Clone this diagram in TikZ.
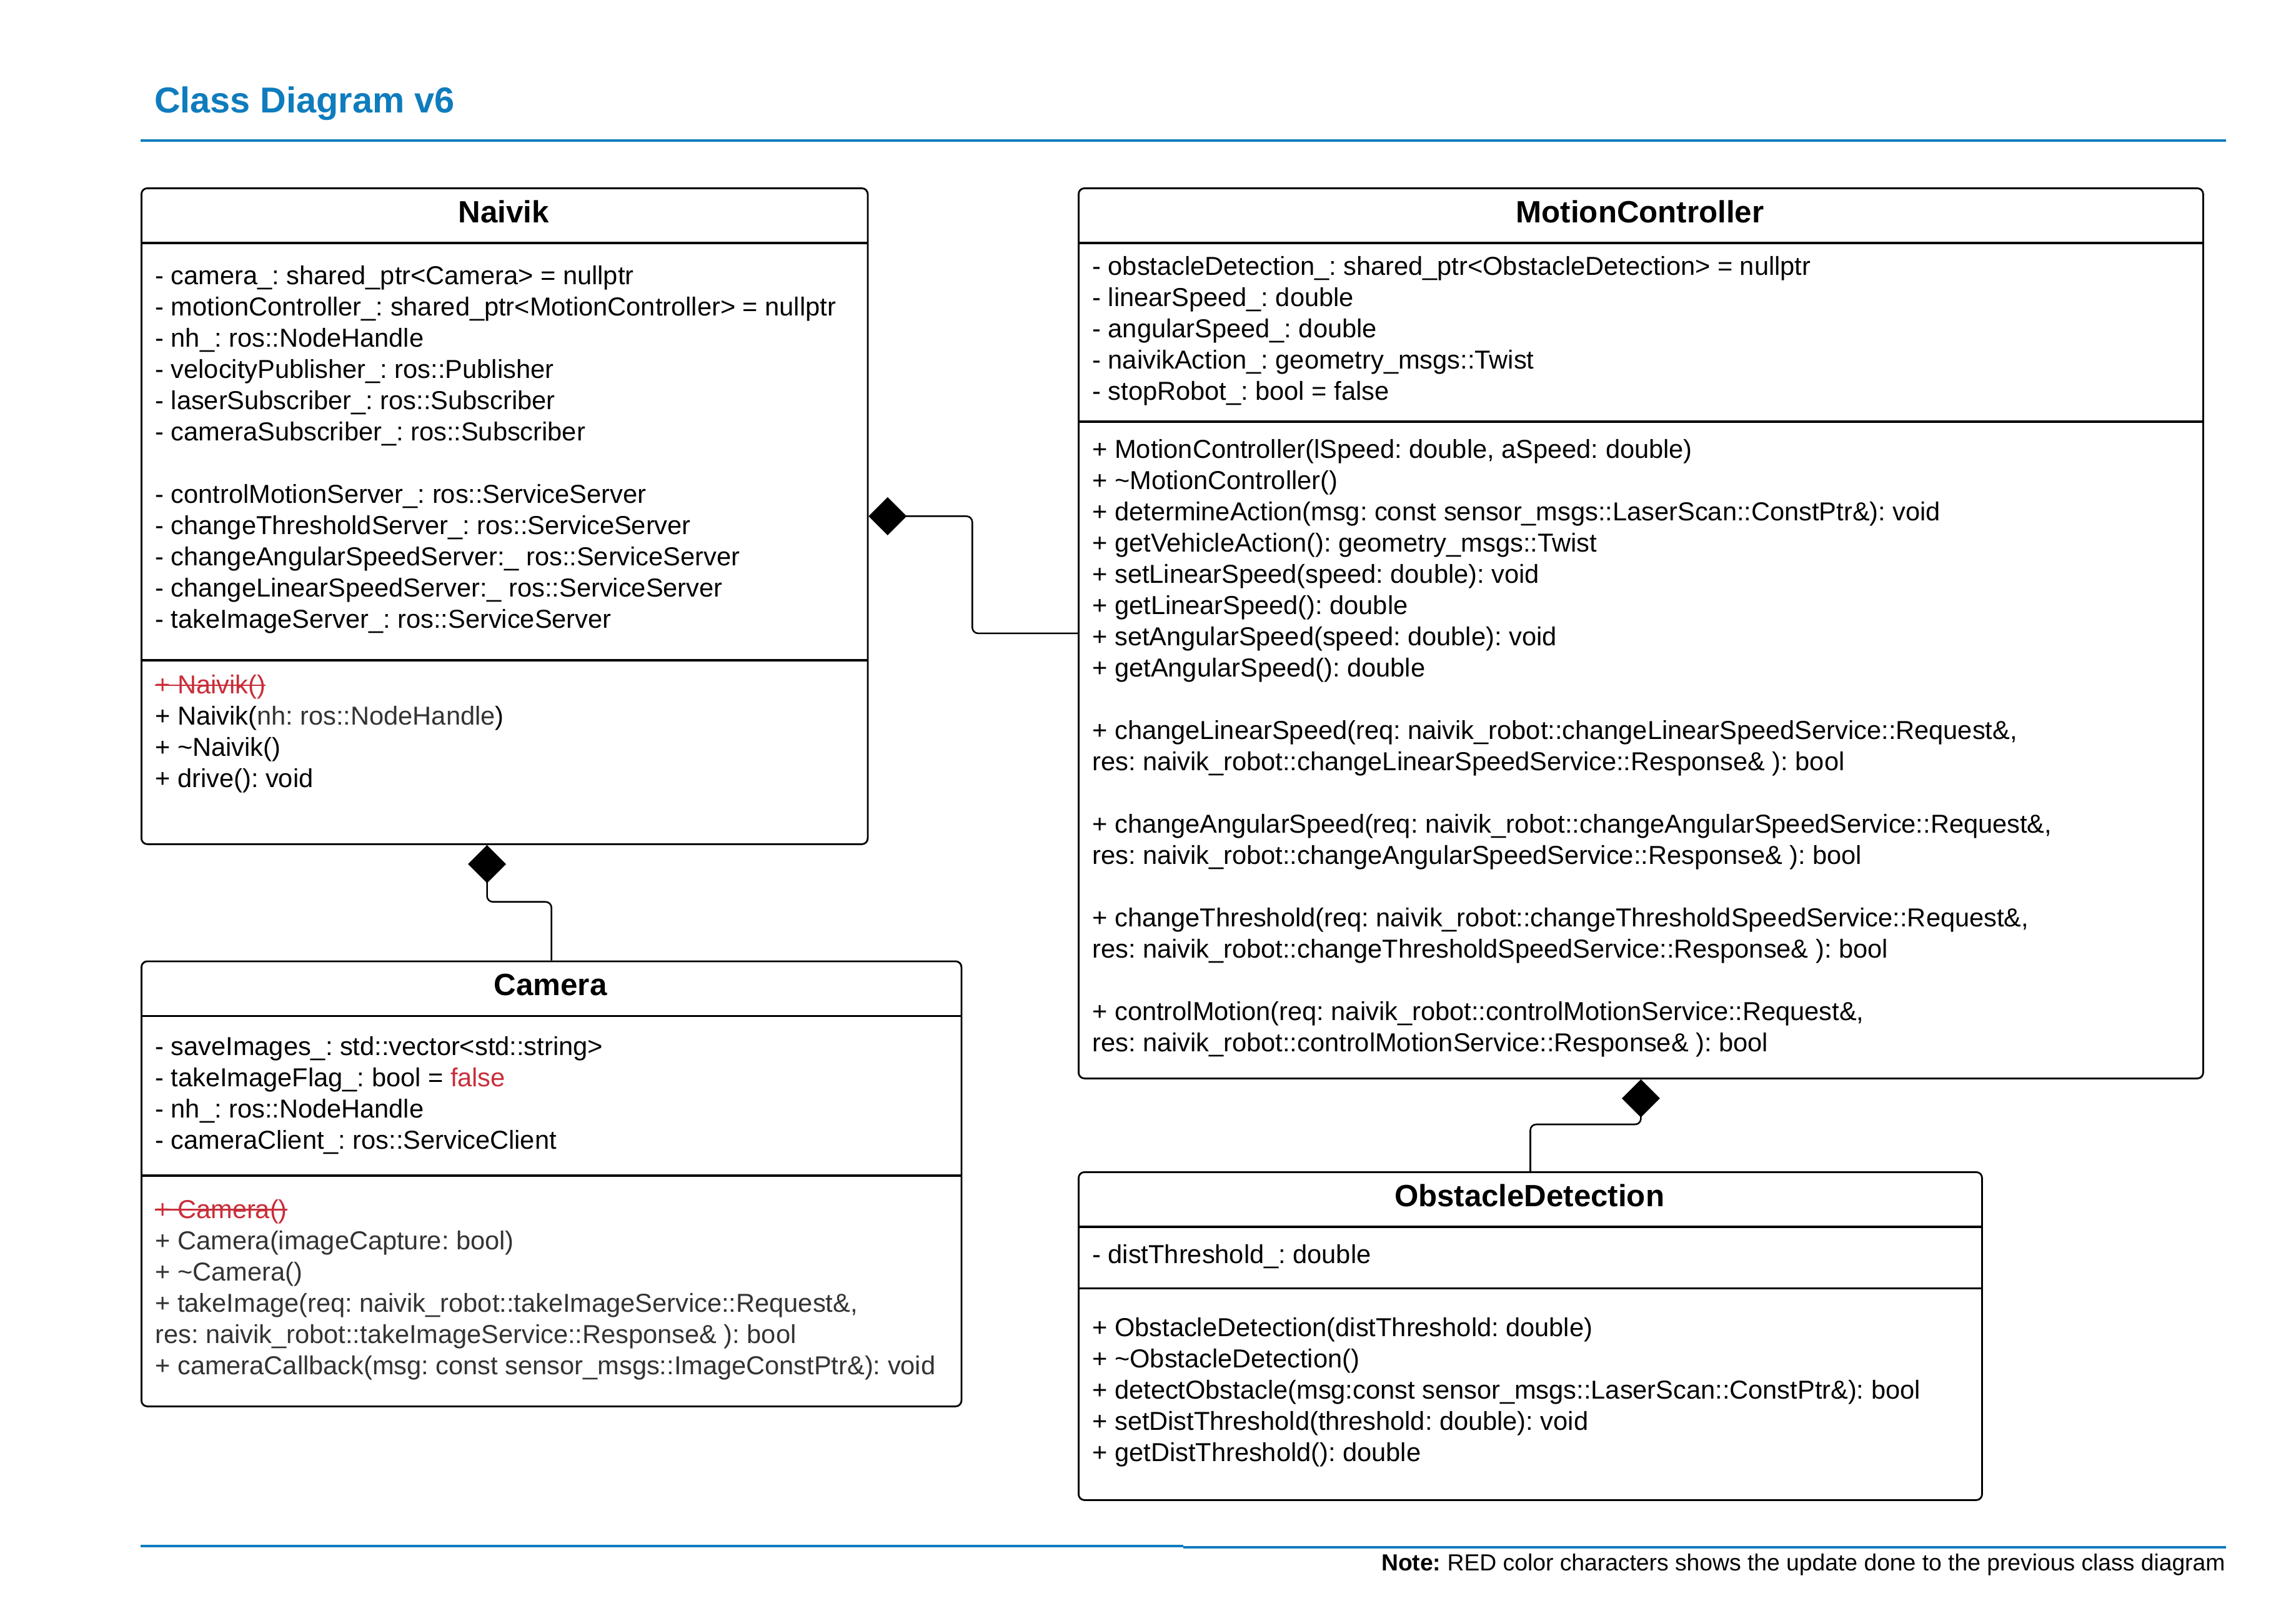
\documentclass[tikz,border=0pt]{standalone}
\usepackage{fontspec}
\setmainfont{Liberation Sans}
\usetikzlibrary{arrows.meta}
\definecolor{tblue}{RGB}{14,124,189}
\definecolor{ured}{RGB}{201,45,57}
\definecolor{dgray}{RGB}{51,51,51}
\frenchspacing
\newsavebox\strkbox
\newcommand\strk[1]{\sbox\strkbox{#1}\rlap{\rule[0.3em]{\wd\strkbox}{0.5pt}}\usebox\strkbox}
\tikzset{
  txt/.style={anchor=base west, inner sep=0pt, outer sep=0pt, font=\fontsize{8.87}{10.7}\selectfont},
  clsbox/.style={draw, line width=0.6pt, rounded corners=2pt, anchor=north west, inner sep=0pt},
  sepline/.style={line width=0.75pt},
  cname/.style={anchor=base, inner sep=0pt, font=\fontsize{10.5}{12}\selectfont\bfseries},
  comp/.style={line width=0.55pt, rounded corners=2pt, -{Diamond[length=13pt,width=13pt]}},
  bluerule/.style={tblue, line width=0.9pt},
}
\newcommand\clslines[5]{%
  \foreach \t [count=\i from 0] in {#5}
    \node[txt,#2,name=#1-\i] at (#3,{#4+\i*21.333}) {\t};%
}
\begin{document}
\frenchspacing
\begin{tikzpicture}[x=0.5pt,y=-0.5pt]
\useasboundingbox[fill=white] (0,0) rectangle (1568,1107);

% title and rules
\node[anchor=base west, inner sep=0pt, text=tblue, font=\fontsize{12.3}{14}\selectfont\bfseries] (title) at (105,77) {Class Diagram v6};
\draw[bluerule] (96,96) -- (1520,96);
\draw[bluerule] (96,1056) -- (808,1056);
\draw[bluerule] (808,1057) -- (1520,1057);
\node[anchor=base east, inner sep=0pt, font=\fontsize{7.95}{9}\selectfont] (note) at (1520,1073) {\textbf{Note:} RED color characters shows the update done to the previous class diagram};

% boxes
\node[clsbox, minimum width=248pt, minimum height=224pt] (naivik) at (96,128) {};
\node[clsbox, minimum width=384pt, minimum height=304pt] (mc) at (736,128) {};
\node[clsbox, minimum width=280pt, minimum height=152pt] (camera) at (96,656) {};
\node[clsbox, minimum width=308.5pt, minimum height=112pt] (od) at (736,800) {};

% separators
\draw[sepline] (96,166) -- (592,166);
\draw[sepline] (96,451) -- (592,451);
\draw[sepline] (736,166) -- (1504,166);
\draw[sepline] (736,288) -- (1504,288);
\draw[sepline] (96,694) -- (656,694);
\draw[sepline] (96,803) -- (656,803);
\draw[sepline] (736,838) -- (1353,838);
\draw[sepline] (736,880) -- (1353,880);

% class names
\node[cname] (naivik-name) at (344,152) {Naivik};
\node[cname] (mc-name) at (1120,152) {MotionController};
\node[cname] (camera-name) at (376,680) {Camera};
\node[cname] (od-name) at (1044.5,824) {ObstacleDetection};

% Naivik
\clslines{nva}{}{106}{194.4}{
 {- camera\_: shared\_ptr<Camera> = nullptr},
 {- motionController\_: shared\_ptr<MotionController> = nullptr},
 {- nh\_: ros::NodeHandle},
 {- velocityPublisher\_: ros::Publisher},
 {- laserSubscriber\_: ros::Subscriber},
 {- cameraSubscriber\_: ros::Subscriber}}
\clslines{nvb}{}{106}{343.7}{
 {- controlMotionServer\_: ros::ServiceServer},
 {- changeThresholdServer\_: ros::ServiceServer},
 {- changeAngularSpeedServer:\_ ros::ServiceServer},
 {- changeLinearSpeedServer:\_ ros::ServiceServer},
 {- takeImageServer\_: ros::ServiceServer}}
\clslines{nvm}{}{106}{474}{
 {\textcolor{ured}{\strk{+ Naivik()}}},
 {+ Naivik(\textcolor{dgray}{nh: ros::NodeHandle})},
 {+ \textasciitilde Naivik()},
 {+ drive(): void}}

% MotionController
\clslines{mca}{}{746}{188}{
 {- obstacleDetection\_: shared\_ptr<ObstacleDetection> = nullptr},
 {- linearSpeed\_: double},
 {- angularSpeed\_: double},
 {- naivikAction\_: geometry\_msgs::Twist},
 {- stopRobot\_: bool = false}}
\clslines{mcm}{}{746}{313}{
 {+ MotionController(lSpeed: double, aSpeed: double)},
 {+ \textasciitilde MotionController()},
 {+ determineAction(msg: const sensor\_msgs::LaserScan::ConstPtr\&): void},
 {+ getVehicleAction(): geometry\_msgs::Twist},
 {+ setLinearSpeed(speed: double): void},
 {+ getLinearSpeed(): double},
 {+ setAngularSpeed(speed: double): void},
 {+ getAngularSpeed(): double}}
\clslines{mcl}{}{746}{505}{
 {+ changeLinearSpeed(req: naivik\_robot::changeLinearSpeedService::Request\&,},
 {res: naivik\_robot::changeLinearSpeedService::Response\& ): bool}}
\clslines{mcg}{}{746}{569}{
 {+ changeAngularSpeed(req: naivik\_robot::changeAngularSpeedService::Request\&,},
 {res: naivik\_robot::changeAngularSpeedService::Response\& ): bool}}
\clslines{mct}{}{746}{633}{
 {+ changeThreshold(req: naivik\_robot::changeThresholdSpeedService::Request\&,},
 {res: naivik\_robot::changeThresholdSpeedService::Response\& ): bool}}
\clslines{mcc}{}{746}{697}{
 {+ controlMotion(req: naivik\_robot::controlMotionService::Request\&,},
 {res: naivik\_robot::controlMotionService::Response\& ): bool}}

% Camera
\clslines{caa}{}{106}{721}{
 {- saveImages\_: std::vector<std::string>},
 {- takeImageFlag\_: bool = \textcolor{ured}{false}},
 {- nh\_: ros::NodeHandle},
 {- cameraClient\_: ros::ServiceClient}}
\clslines{cam}{text=dgray}{106}{832}{
 {\textcolor{ured}{\strk{+ Camera()}}},
 {+ Camera(imageCapture: bool)},
 {+ \textasciitilde Camera()},
 {+ takeImage(req: naivik\_robot::takeImageService::Request\&,},
 {res: naivik\_robot::takeImageService::Response\& ): bool},
 {+ cameraCallback(msg: const sensor\_msgs::ImageConstPtr\&): void}}

% ObstacleDetection
\clslines{oda}{}{746}{863}{
 {- distThreshold\_: double}}
\clslines{odm}{}{746}{913}{
 {+ ObstacleDetection(distThreshold: double)},
 {+ \textasciitilde ObstacleDetection()},
 {+ detectObstacle(msg:const sensor\_msgs::LaserScan::ConstPtr\&): bool},
 {+ setDistThreshold(threshold: double): void},
 {+ getDistThreshold(): double}}

% connectors (composition)
\draw[comp] (mc.west) -- ++(-72,0) |- (naivik.east);
\draw[comp] (camera.north) -- ++(0,-40) -| ([xshift=-6pt]naivik.south);
\draw[comp] (od.north) -- ++(0,-32) -| (mc.south);
\end{tikzpicture}
\end{document}
